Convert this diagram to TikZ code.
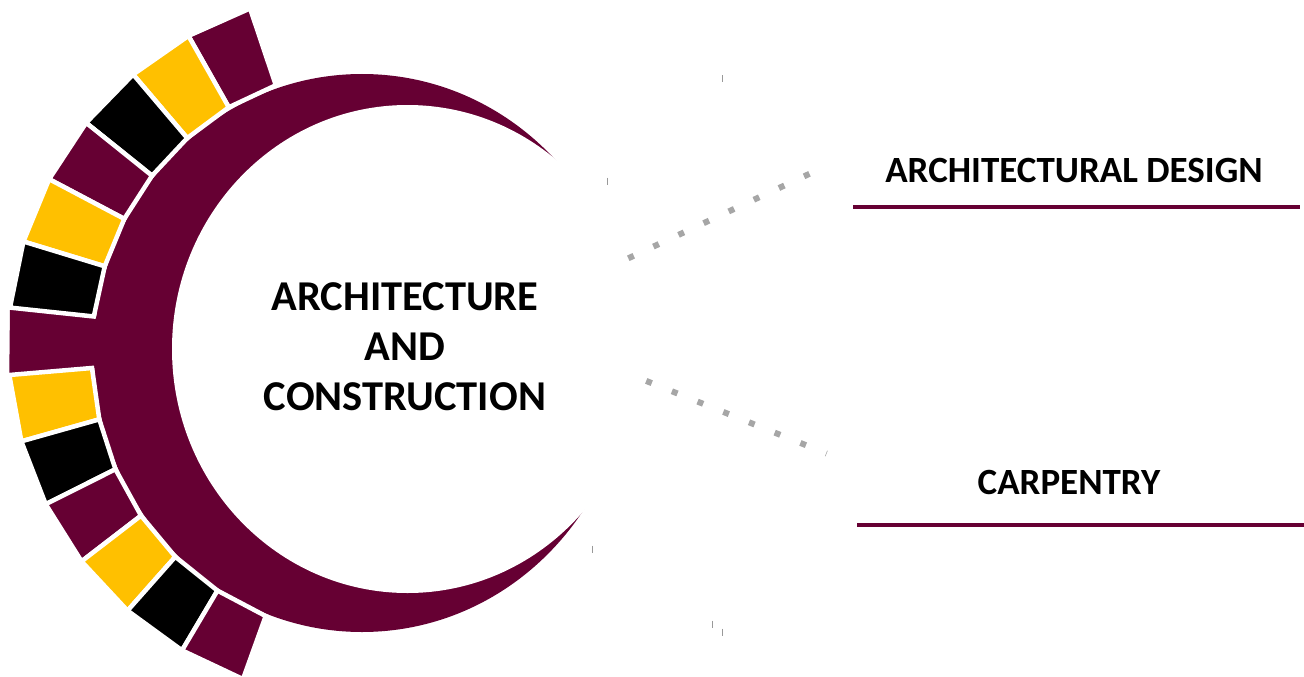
\documentclass[tikz,border=0pt]{standalone}
\usepackage{fontspec}
\setmainfont{Carlito}
\usetikzlibrary{calc}
\definecolor{mar}{HTML}{660033}
\definecolor{yel}{HTML}{FFC000}
\definecolor{dotgray}{HTML}{A6A6A6}
\begin{document}
\begin{tikzpicture}[x=1pt,y=-1pt,
  blk/.style={draw=white, line width=4.5pt, line join=miter},
  dots/.style={draw=dotgray, line width=6pt, dash pattern=on 6pt off 21.7pt},
  uline/.style={draw=mar, line width=4pt},
  lbl/.style={font=\bfseries\fontsize{37}{44}\selectfont, text=black, inner sep=0pt},
  ctext/.style={font=\bfseries\fontsize{42.5}{50}\selectfont, text=black, inner sep=0pt, align=center},
  tickmark/.style={draw=gray!80, line width=0.8pt}]
\useasboundingbox (0,0) rectangle (1304,677);
\coordinate (rc) at (363,345);
% crescent
\fill[mar] (362,353) ellipse [x radius=268, y radius=279];
\fill[white] (407.5,349) ellipse [x radius=235.5, y radius=244];
% left block that merges with the crescent
\fill[mar] ($(rc)+(-173.95:355)$) -- ($(rc)+(-184.85:355)$) -- ($(rc)+(-184.85:262)$) -- ($(rc)+(-173.95:262)$) -- cycle;
% ring of blocks
\foreach \a/\b/\ra/\rb/\col in {
  108.55/119.45/274/273/mar,
  119.45/130.35/273/271.5/yel,
  130.35/141.25/271.5/270.5/black,
  141.25/152.15/270.5/270/mar,
  152.15/163.05/270/270/yel,
  163.05/173.95/270/270.7/black,
  184.85/195.75/272/274/yel,
  195.75/206.65/274/277/black,
  206.65/217.55/277/280/mar,
  217.55/228.45/280/283/yel,
  228.45/239.35/283/285.5/black,
  239.35/250.25/285.5/288/mar}
  \filldraw[blk, fill=\col] ($(rc)+(-\a:355)$) -- ($(rc)+(-\b:355)$) -- ($(rc)+(-\b:\rb)$) -- ($(rc)+(-\a:\ra)$) -- cycle;
% central text
\node[ctext] (center) at (405,347) {ARCHITECTURE\\AND\\CONSTRUCTION};
% labels
\node[lbl] (l1) at (1074,171) {ARCHITECTURAL DESIGN};
\node[lbl] (l2) at (1069,482) {CARPENTRY};
% underlines
\coordinate (u1a) at (853,207); \coordinate (u1b) at (1300,207);
\coordinate (u2a) at (857,525); \coordinate (u2b) at (1304,525);
\draw[uline] (u1a) -- (u1b);
\draw[uline] (u2a) -- (u2b);
% dotted connectors
\coordinate (d1a) at (628.3,258.3); \coordinate (d1b) at (809.7,173.7);
\coordinate (d2a) at (646.2,380.9); \coordinate (d2b) at (826.6,453.5);
\draw[dots] (d1a) -- (d1b);
\draw[dots] (d2a) -- (d2b);
% small tick marks
\foreach \x/\y in {722/79, 607/181, 592/549, 712/624, 722/632}
  \draw[tickmark] (\x,\y-3.5) -- (\x,\y+3.5);
\end{tikzpicture}
\end{document}
